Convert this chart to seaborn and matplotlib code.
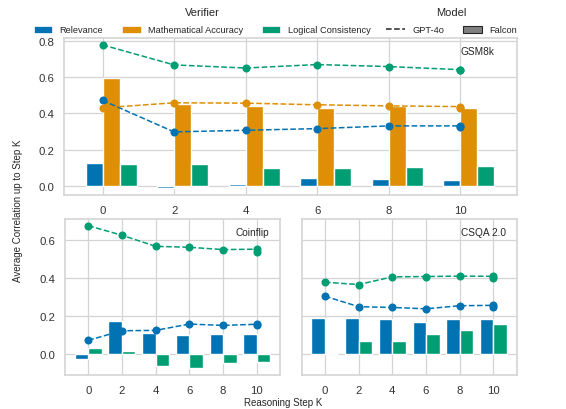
import matplotlib
matplotlib.use("Agg")
import matplotlib.pyplot as plt
from matplotlib.lines import Line2D
from matplotlib.patches import Patch
import numpy as np
import pandas as pd
import seaborn as sns

# ---- data -------------------------------------------------------------
steps = [0, 2, 4, 6, 8, 10]
# GPT-4o curves: the final step carries two reported runs
gpt_steps = [0, 2, 4, 6, 8, 10, 10]
verifiers = ["Relevance", "Mathematical Accuracy", "Logical Consistency"]
colors = ["#0173b2", "#de8f05", "#029e73"]

# GSM8k
gsm_falcon_rel = [0.125, -0.011, 0.013, 0.042, 0.037, 0.033]
gsm_falcon_math = [0.596, 0.451, 0.438, 0.427, 0.443, 0.432]
gsm_falcon_logic = [0.121, 0.119, 0.101, 0.100, 0.105, 0.108]
gsm_gpt_rel = [0.471, 0.298, 0.307, 0.316, 0.331, 0.331, 0.323]
gsm_gpt_math = [0.430, 0.458, 0.456, 0.447, 0.441, 0.437, 0.432]
gsm_gpt_logic = [0.776, 0.666, 0.649, 0.668, 0.657, 0.640, 0.640]

# Coinflip
coin_falcon_rel = [-0.026, 0.172, 0.113, 0.103, 0.104, 0.104]
coin_falcon_logic = [0.031, 0.019, -0.064, -0.070, -0.047, -0.040]
coin_gpt_rel = [0.073, 0.123, 0.125, 0.158, 0.151, 0.157, 0.155]
coin_gpt_logic = [0.673, 0.623, 0.565, 0.560, 0.548, 0.550, 0.536]

# CSQA 2.0
csqa_falcon_rel = [0.190, 0.191, 0.184, 0.170, 0.186, 0.183]
csqa_falcon_logic = [0.000, 0.068, 0.070, 0.104, 0.125, 0.158]
csqa_gpt_rel = [0.304, 0.249, 0.245, 0.238, 0.254, 0.256, 0.245]
csqa_gpt_logic = [0.377, 0.365, 0.405, 0.407, 0.409, 0.408, 0.398]

# ---- style ------------------------------------------------------------
sns.set_theme(style="whitegrid")
plt.rcParams["font.family"] = ["Liberation Sans", "DejaVu Sans"]
plt.rcParams.update({
    "axes.edgecolor": "#d4d4d4",
    "axes.linewidth": 1.2,
    "grid.color": "#d4d4d4",
    "grid.linewidth": 0.9,
    "xtick.labelsize": 8.2,
    "ytick.labelsize": 8.2,
    "xtick.major.pad": 7.3,
    "ytick.major.pad": 6.8,
    "text.color": "#262626",
    "xtick.color": "#333333",
    "ytick.color": "#333333",
})

PAD = "_pad"
palette = dict(zip(verifiers, colors))
palette[PAD] = "white"


def long_frame(xs, series):
    rows = []
    for name, vals in series.items():
        for x, v in zip(xs, vals):
            rows.append({"step": x, "verifier": name, "value": v})
    return pd.DataFrame(rows)


def draw_panel(ax, bars, lines, hue_order, width, label):
    bar_df = long_frame(steps, bars)
    sns.barplot(data=bar_df, x="step", y="value", hue="verifier",
                hue_order=hue_order, palette=palette, native_scale=True,
                width=width, errorbar=None, saturation=1, legend=False,
                edgecolor="white", linewidth=1.0, ax=ax)
    line_df = long_frame(gpt_steps, lines)
    sns.lineplot(data=line_df, x="step", y="value", hue="verifier",
                 hue_order=[v for v in verifiers if v in lines],
                 palette=palette, estimator=None, sort=False,
                 linestyle="--", linewidth=1.1, marker="o", markersize=5.8,
                 markeredgewidth=0, legend=False, ax=ax, zorder=5)
    ax.set_xticks(steps)
    ax.set_xticklabels([str(s) for s in steps])
    ax.set_xlabel("")
    ax.set_ylabel("")
    ax.tick_params(length=0)
    ax.text(0.95, 0.95, label, transform=ax.transAxes, ha="right", va="top",
            fontsize=7.3, color="#262626", zorder=6)


fig = plt.figure(figsize=(5.66, 4.10), dpi=100)
ax_top = fig.add_axes([0.1136, 0.5227, 0.7993, 0.3822])
ax_bl = fig.add_axes([0.1148, 0.0837, 0.3799, 0.3797])
ax_br = fig.add_axes([0.5330, 0.0837, 0.3799, 0.3797], sharey=ax_bl)

draw_panel(ax_top,
           {"Relevance": gsm_falcon_rel,
            "Mathematical Accuracy": gsm_falcon_math,
            "Logical Consistency": gsm_falcon_logic},
           {"Relevance": gsm_gpt_rel,
            "Mathematical Accuracy": gsm_gpt_math,
            "Logical Consistency": gsm_gpt_logic},
           [PAD] + verifiers, 0.95, "GSM8k")
draw_panel(ax_bl,
           {"Relevance": coin_falcon_rel, "Logical Consistency": coin_falcon_logic},
           {"Relevance": coin_gpt_rel, "Logical Consistency": coin_gpt_logic},
           ["Relevance", "Logical Consistency"], 0.8, "Coinflip")
draw_panel(ax_br,
           {"Relevance": csqa_falcon_rel, "Logical Consistency": csqa_falcon_logic},
           {"Relevance": csqa_gpt_rel, "Logical Consistency": csqa_gpt_logic},
           ["Relevance", "Logical Consistency"], 0.8, "CSQA 2.0")

ax_top.set_xlim(-1.07, 11.58)
ax_top.set_ylim(-0.047, 0.814)
ax_top.set_yticks([0.0, 0.2, 0.4, 0.6, 0.8])
ax_top.set_yticklabels(["0.0", "0.2", "0.4", "0.6", "0.8"])

for ax in (ax_bl, ax_br):
    ax.set_xlim(-1.38, 11.38)
ax_bl.set_ylim(-0.107, 0.708)
ax_bl.set_yticks([0.0, 0.2, 0.4, 0.6])
ax_bl.set_yticklabels(["0.0", "0.2", "0.4", "0.6"])
ax_br.tick_params(labelleft=False)

fig.text(0.031, 0.485, "Average Correlation up to Step K", rotation=90,
         ha="center", va="center", fontsize=7)
fig.text(0.5, 0.017, "Reasoning Step K", ha="center", va="center", fontsize=7)

# ---- legends ----------------------------------------------------------
verifier_handles = [Patch(facecolor=c, edgecolor="white", linewidth=0.5)
                    for c in colors]
leg1 = fig.legend(verifier_handles, verifiers, title="Verifier",
                  loc="upper center", bbox_to_anchor=(0.357, 0.995), ncol=3,
                  frameon=False, fontsize=6.7, title_fontsize=8,
                  handlelength=2.0, handleheight=0.8, columnspacing=2.0,
                  labelspacing=0.95, borderaxespad=0.2)
model_handles = [Line2D([], [], color="#262626", linestyle="--", linewidth=1.1),
                 Patch(facecolor="#808080", edgecolor="#262626", linewidth=0.8)]
leg2 = fig.legend(model_handles, ["GPT-4o", "Falcon"], title="Model",
                  loc="upper center", bbox_to_anchor=(0.798, 0.995), ncol=2,
                  frameon=False, fontsize=6.7, title_fontsize=8,
                  handlelength=2.0, handleheight=0.8, columnspacing=2.0,
                  labelspacing=0.95, borderaxespad=0.2)

fig.savefig("out.png", dpi=100)
